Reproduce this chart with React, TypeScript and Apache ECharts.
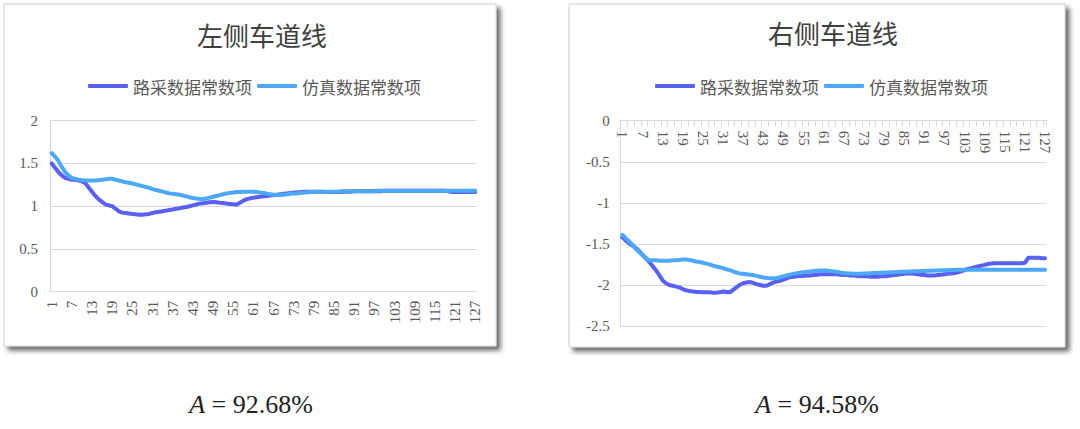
import React, { useEffect, useRef } from 'react';
import * as echarts from 'echarts';

const categories: string[] = Array.from({ length: 127 }, (_, i) => String(i + 1));

const leftRoad: number[] = [
  1.50, 1.45, 1.40, 1.36, 1.33, 1.32, 1.31, 1.31, 1.30, 1.29,
  1.27, 1.22, 1.17, 1.12, 1.08, 1.05, 1.02, 1.01, 1.00, 0.97,
  0.94, 0.925, 0.92, 0.915, 0.91, 0.905, 0.90, 0.90, 0.905, 0.91,
  0.92, 0.93, 0.935, 0.94, 0.948, 0.955, 0.962, 0.97, 0.977, 0.985,
  0.99, 1.00, 1.01, 1.02, 1.03, 1.035, 1.04, 1.045, 1.048, 1.045,
  1.04, 1.037, 1.032, 1.027, 1.022, 1.02, 1.04, 1.065, 1.082, 1.092,
  1.10, 1.105, 1.11, 1.115, 1.12, 1.125, 1.13, 1.135, 1.14, 1.145,
  1.15, 1.155, 1.16, 1.16, 1.165, 1.17, 1.17, 1.17, 1.17, 1.17,
  1.17, 1.165, 1.165, 1.165, 1.165, 1.165, 1.165, 1.17, 1.17, 1.17,
  1.175, 1.175, 1.175, 1.175, 1.175, 1.175, 1.175, 1.175, 1.175, 1.18,
  1.18, 1.18, 1.18, 1.18, 1.18, 1.18, 1.18, 1.18, 1.18, 1.18,
  1.18, 1.18, 1.18, 1.18, 1.18, 1.18, 1.18, 1.18, 1.175, 1.165,
  1.165, 1.165, 1.165, 1.165, 1.165, 1.165, 1.165,
];

const leftSim: number[] = [
  1.62, 1.58, 1.53, 1.46, 1.40, 1.36, 1.33, 1.32, 1.31, 1.305,
  1.30, 1.30, 1.30, 1.30, 1.305, 1.31, 1.315, 1.32, 1.32, 1.31,
  1.30, 1.29, 1.28, 1.275, 1.265, 1.255, 1.245, 1.235, 1.225, 1.215,
  1.20, 1.19, 1.18, 1.17, 1.16, 1.15, 1.145, 1.14, 1.135, 1.125,
  1.115, 1.105, 1.095, 1.09, 1.085, 1.085, 1.09, 1.10, 1.11, 1.12,
  1.13, 1.14, 1.15, 1.155, 1.16, 1.165, 1.165, 1.17, 1.17, 1.17,
  1.17, 1.165, 1.16, 1.155, 1.145, 1.14, 1.135, 1.13, 1.13, 1.135,
  1.14, 1.145, 1.15, 1.15, 1.155, 1.16, 1.16, 1.165, 1.165, 1.17,
  1.17, 1.17, 1.17, 1.17, 1.17, 1.17, 1.175, 1.175, 1.175, 1.175,
  1.175, 1.175, 1.175, 1.175, 1.175, 1.175, 1.175, 1.18, 1.18, 1.18,
  1.18, 1.18, 1.18, 1.18, 1.18, 1.18, 1.18, 1.18, 1.18, 1.18,
  1.18, 1.18, 1.18, 1.18, 1.18, 1.18, 1.18, 1.18, 1.18, 1.18,
  1.18, 1.18, 1.18, 1.18, 1.18, 1.18, 1.18,
];

const rightRoad: number[] = [
  -1.42, -1.46, -1.49, -1.52, -1.55, -1.59, -1.63, -1.67, -1.72, -1.77,
  -1.82, -1.88, -1.945, -1.98, -2.00, -2.01, -2.02, -2.03, -2.05, -2.065,
  -2.075, -2.08, -2.085, -2.085, -2.09, -2.09, -2.09, -2.095, -2.095, -2.09,
  -2.08, -2.085, -2.09, -2.06, -2.03, -2.00, -1.98, -1.97, -1.965, -1.975,
  -1.99, -2.00, -2.01, -2.01, -1.99, -1.97, -1.96, -1.95, -1.935, -1.92,
  -1.905, -1.90, -1.895, -1.89, -1.89, -1.885, -1.885, -1.88, -1.875, -1.87,
  -1.87, -1.87, -1.87, -1.87, -1.87, -1.875, -1.88, -1.88, -1.885, -1.885,
  -1.89, -1.895, -1.895, -1.895, -1.90, -1.90, -1.90, -1.895, -1.895, -1.89,
  -1.885, -1.88, -1.875, -1.87, -1.865, -1.86, -1.86, -1.865, -1.87, -1.875,
  -1.88, -1.885, -1.885, -1.885, -1.88, -1.875, -1.87, -1.865, -1.86, -1.855,
  -1.845, -1.835, -1.82, -1.805, -1.795, -1.785, -1.775, -1.765, -1.755, -1.745,
  -1.74, -1.737, -1.735, -1.735, -1.735, -1.735, -1.735, -1.735, -1.735, -1.735,
  -1.73, -1.67, -1.67, -1.67, -1.67, -1.675, -1.675,
];

const rightSim: number[] = [
  -1.39, -1.43, -1.47, -1.51, -1.56, -1.60, -1.64, -1.68, -1.70, -1.70,
  -1.70, -1.705, -1.705, -1.705, -1.705, -1.70, -1.70, -1.695, -1.69, -1.69,
  -1.695, -1.705, -1.715, -1.72, -1.73, -1.74, -1.75, -1.765, -1.775, -1.785,
  -1.795, -1.81, -1.82, -1.835, -1.85, -1.86, -1.865, -1.87, -1.875, -1.88,
  -1.89, -1.90, -1.91, -1.915, -1.92, -1.92, -1.915, -1.905, -1.895, -1.885,
  -1.875, -1.865, -1.858, -1.852, -1.845, -1.84, -1.835, -1.83, -1.828, -1.825,
  -1.825, -1.825, -1.83, -1.835, -1.84, -1.85, -1.855, -1.86, -1.862, -1.865,
  -1.865, -1.865, -1.862, -1.86, -1.858, -1.856, -1.855, -1.852, -1.85, -1.848,
  -1.846, -1.845, -1.842, -1.84, -1.838, -1.836, -1.835, -1.833, -1.832, -1.83,
  -1.83, -1.828, -1.826, -1.825, -1.824, -1.822, -1.82, -1.82, -1.818, -1.818,
  -1.816, -1.815, -1.815, -1.815, -1.815, -1.815, -1.815, -1.815, -1.815, -1.815,
  -1.815, -1.815, -1.815, -1.815, -1.815, -1.815, -1.815, -1.815, -1.815, -1.815,
  -1.815, -1.815, -1.815, -1.815, -1.815, -1.815, -1.815,
];

const leftYTicks = { min: 0, max: 2, interval: 0.5 };
const rightYTicks = { min: -2.5, max: 0, interval: 0.5 };
const seriesNames = ['路采数据常数项', '仿真数据常数项'];
const titles = ['左侧车道线', '右侧车道线'];
const accuracies = ['92.68%', '94.58%'];

const DARK = '#5860F5';
const LIGHT = '#4CA8FA';
const GRID = '#d9d9d9';
const LABEL = '#595959';
const SERIF = 'Liberation Serif';
const CJK = 'Noto Sans CJK SC';

export default function App() {
  const ref = useRef<HTMLDivElement>(null);

  useEffect(() => {
    if (!ref.current) return;
    const chart = echarts.init(ref.current, undefined, { renderer: 'svg' });

    const axisLabelStyle = { color: LABEL, fontFamily: SERIF, fontSize: 15 };

    const makeLegend = (left: number) => ({
      left,
      top: 71,
      orient: 'horizontal',
      icon: 'roundRect',
      itemWidth: 40,
      itemHeight: 4,
      itemGap: 5,
      data: seriesNames,
      textStyle: { color: LABEL, fontFamily: CJK, fontSize: 17, lineHeight: 20 },
    });

    const lineSeries = (name: string, data: number[], color: string, idx: number) => ({
      name,
      type: 'line',
      data,
      xAxisIndex: idx,
      yAxisIndex: idx,
      symbol: 'none',
      showSymbol: false,
      smooth: false,
      color,
      lineStyle: { color, width: 4, cap: 'round', join: 'round' },
    });

    const cardStyle = {
      fill: '#ffffff',
      stroke: '#d0d0d0',
      lineWidth: 1,
      shadowBlur: 5,
      shadowOffsetX: 4,
      shadowOffsetY: 4,
      shadowColor: 'rgba(0,0,0,0.6)',
    };

    const option: any = {
      animation: false,
      backgroundColor: '#ffffff',
      legend: [makeLegend(83), makeLegend(650)],
      grid: [
        { left: 50, top: 120.7, width: 427, height: 171, containLabel: false },
        { left: 620.7, top: 120.7, width: 426, height: 205.3, containLabel: false },
      ],
      xAxis: [
        {
          type: 'category',
          gridIndex: 0,
          data: categories,
          boundaryGap: true,
          axisLine: { show: true, lineStyle: { color: GRID, width: 1 } },
          axisTick: { show: false },
          axisLabel: { ...axisLabelStyle, interval: 5, rotate: 90, margin: 9 },
          splitLine: { show: false },
        },
        {
          type: 'category',
          gridIndex: 1,
          data: categories,
          boundaryGap: true,
          position: 'top',
          axisLine: { show: true, onZero: false, lineStyle: { color: GRID, width: 1 } },
          axisTick: { show: true, inside: true, interval: 1, length: 6, lineStyle: { color: GRID } },
          axisLabel: { ...axisLabelStyle, inside: true, interval: 5, rotate: 90, margin: 10 },
          splitLine: { show: false },
        },
      ],
      yAxis: [
        {
          type: 'value',
          gridIndex: 0,
          ...leftYTicks,
          axisLine: { show: true, lineStyle: { color: GRID } },
          axisTick: { show: false },
          axisLabel: { ...axisLabelStyle, margin: 12 },
          splitLine: { show: true, lineStyle: { color: GRID, width: 1 } },
        },
        {
          type: 'value',
          gridIndex: 1,
          ...rightYTicks,
          axisLine: { show: true, lineStyle: { color: GRID } },
          axisTick: { show: false },
          axisLabel: { ...axisLabelStyle, margin: 11 },
          splitLine: { show: true, lineStyle: { color: GRID, width: 1 } },
        },
      ],
      series: [
        lineSeries(seriesNames[0], leftRoad, DARK, 0),
        lineSeries(seriesNames[1], leftSim, LIGHT, 0),
        lineSeries(seriesNames[0], rightRoad, DARK, 1),
        lineSeries(seriesNames[1], rightSim, LIGHT, 1),
      ],
      graphic: [
        { type: 'rect', z: -10, shape: { x: 4, y: 4, width: 492, height: 342 }, style: cardStyle },
        { type: 'rect', z: -10, shape: { x: 569, y: 4, width: 496, height: 343 }, style: cardStyle },
        {
          type: 'text',
          x: 262,
          y: 34,
          style: {
            text: titles[0],
            fill: '#404040',
            fontFamily: CJK,
            fontSize: 26,
            align: 'center',
            verticalAlign: 'middle',
          },
        },
        {
          type: 'text',
          x: 833,
          y: 32,
          style: {
            text: titles[1],
            fill: '#404040',
            fontFamily: CJK,
            fontSize: 26,
            align: 'center',
            verticalAlign: 'middle',
          },
        },
        {
          type: 'text',
          x: 251,
          y: 404,
          style: {
            text: '{i|A} = ' + accuracies[0],
            fill: '#222222',
            fontFamily: SERIF,
            fontSize: 26,
            align: 'center',
            verticalAlign: 'middle',
            rich: { i: { fontStyle: 'italic', fontFamily: SERIF, fontSize: 26, fill: '#222222' } },
          },
        },
        {
          type: 'text',
          x: 817,
          y: 404,
          style: {
            text: '{i|A} = ' + accuracies[1],
            fill: '#222222',
            fontFamily: SERIF,
            fontSize: 26,
            align: 'center',
            verticalAlign: 'middle',
            rich: { i: { fontStyle: 'italic', fontFamily: SERIF, fontSize: 26, fill: '#222222' } },
          },
        },
      ],
    };

    chart.setOption(option);
    return () => {
      chart.dispose();
    };
  }, []);

  return (
    <div
      ref={ref}
      style={{ position: 'absolute', left: 0, top: 0, width: 1080, height: 429 }}
    />
  );
}
